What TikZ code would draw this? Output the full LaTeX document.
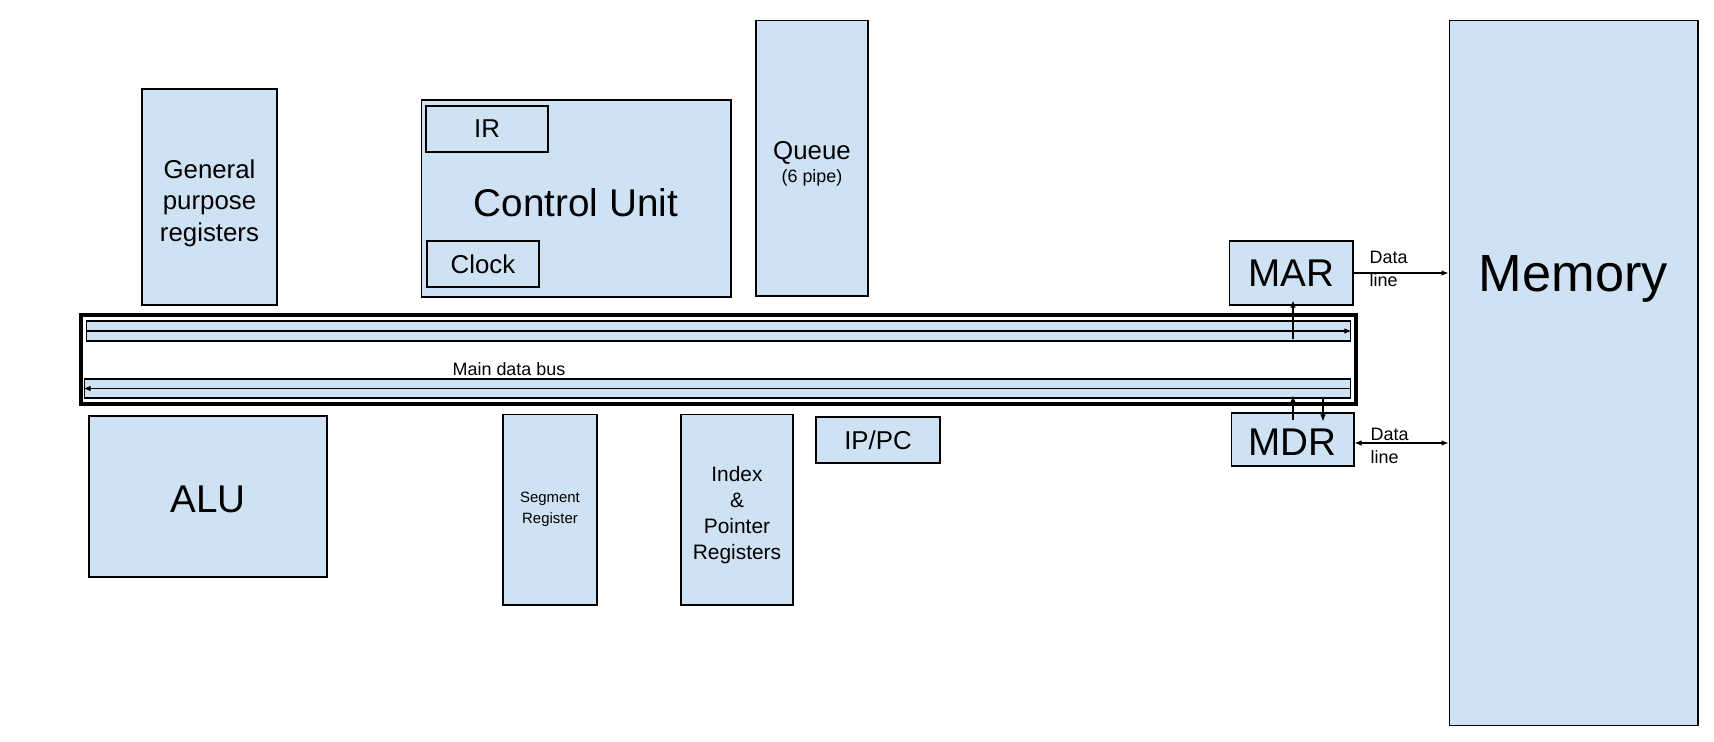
\documentclass[tikz,border=0pt]{standalone}
\usepackage{fontspec}
\setmainfont{Liberation Sans}
\usepackage{xcolor}
\usetikzlibrary{arrows.meta,positioning,calc}
\definecolor{boxblue}{HTML}{CFE2F3}

\begin{document}
\begin{tikzpicture}[x=0.02cm,y=-0.02cm,
  box/.style={draw,fill=boxblue,line width=0.6pt,inner sep=0pt,align=center},
  arr/.style={line width=0.6pt,-{Latex[length=1.4mm,width=1.1mm]}},
  darr/.style={line width=0.6pt,{Latex[length=1.4mm,width=1.1mm]}-{Latex[length=1.4mm,width=1.1mm]}},
  huge/.style={font=\fontsize{29.8}{36}\selectfont,text depth=0pt},
  big/.style={font=\fontsize{22}{27}\selectfont,text depth=0pt},
  med/.style={font=\fontsize{14.7}{18}\selectfont},
  sml/.style={font=\fontsize{10.2}{13}\selectfont}]
  \useasboundingbox (0,0) rectangle (1714,741);
  % upper row
  \node[box,minimum width=2.70cm,minimum height=4.32cm] (gpr) at (209.5,197) {};
  \node[med,align=center] (gprlbl) at ($(gpr.center)+(0,6)$) {General\\purpose\\registers};
  \node[box,minimum width=6.20cm,minimum height=3.94cm] (cu) at (576,198.5) {};
  \node[big] (culbl) at ($(cu.center)+(0,3.5)$) {Control Unit};
  \node[box,med,minimum width=2.44cm,minimum height=0.92cm] (ir) at (487,129) {IR};
  \node[box,med,minimum width=2.24cm,minimum height=0.92cm] (clock) at (483,264) {Clock};
  \node[box,minimum width=2.24cm,minimum height=5.52cm] (queue) at (812,158) {};
  \node[med,anchor=base] (qlbl) at ($(queue.center)+(0,1)$) {Queue};
  \node[sml,anchor=base] (qpipe) at ($(queue.center)+(0,24)$) {(6 pipe)};
  % bus
  \node[draw,line width=2.3pt,minimum width=25.5cm,minimum height=1.78cm,inner sep=0pt] (bus) at (718.5,359.5) {};
  \node[box,minimum width=25.3cm,minimum height=0.40cm] (toplane) at (718.5,331) {};
  \node[box,minimum width=25.34cm,minimum height=0.38cm] (botlane) at (717.5,388.5) {};
  \node[sml] (buslbl) at (509,369) {Main data bus};
  \draw[arr] (toplane.west) -- (toplane.east);
  \draw[arr] (botlane.east) -- (botlane.west);
  % lower row
  \node[box,minimum width=4.76cm,minimum height=3.22cm] (alu) at (208,496.5) {};
  \node[big] (alulbl) at ($(alu.center)+(0,3)$) {ALU};
  \node[box,minimum width=1.88cm,minimum height=3.82cm,font=\fontsize{8.5}{11.9}\selectfont] (seg) at (550,509.5) {Segment\\Register};
  \node[box,minimum width=2.24cm,minimum height=3.82cm] (idx) at (737,509.5) {};
  \node[align=center,font=\fontsize{11.9}{14.7}\selectfont] (idxlbl) at ($(idx.center)+(0,5.5)$) {Index\\\&\\Pointer\\Registers};
  \node[box,med,minimum width=2.48cm,minimum height=0.92cm] (ippc) at (878,440) {IP/PC};
  % memory side
  \node[box,big,minimum width=2.48cm,minimum height=1.28cm] (mar) at (1291,273) {MAR};
  \node[box,minimum width=2.46cm,minimum height=1.06cm] (mdr) at (1292.5,439.5) {};
  \node[big] (mdrlbl) at ($(mdr.center)+(0,3)$) {MDR};
  \node[box,minimum width=4.98cm,minimum height=14.12cm] (mem) at (1573.5,373) {};
  \node[huge] (memlbl) at (mem |- mar) {Memory};
  \draw[arr] ($(toplane.south -| mar.south)+(2,-3)$) -- ($(mar.south)+(2,-5)$);
  \draw[arr] ($(mdr.north)+(0.5,8)$) -- ($(botlane.south -| mdr.north)+(0.5,-3)$);
  \draw[arr] ($(botlane.south -| mdr.north)+(30.5,0)$) -- ($(mdr.north)+(30.5,9)$);
  \draw[arr] (mar.east) -- (mar.east -| mem.west);
  \draw[darr] ($(mdr.east)+(0,3.5)$) -- ($(mdr.east -| mem.west)+(0,3.5)$);
  \node[sml,align=left,anchor=west] (marline) at ($(mar.east)+(10,-4.5)$) {Data\\line};
  \node[sml,align=left,anchor=west] (mdrline) at ($(mdr.east)+(10,6.5)$) {Data\\line};
\end{tikzpicture}
\end{document}
